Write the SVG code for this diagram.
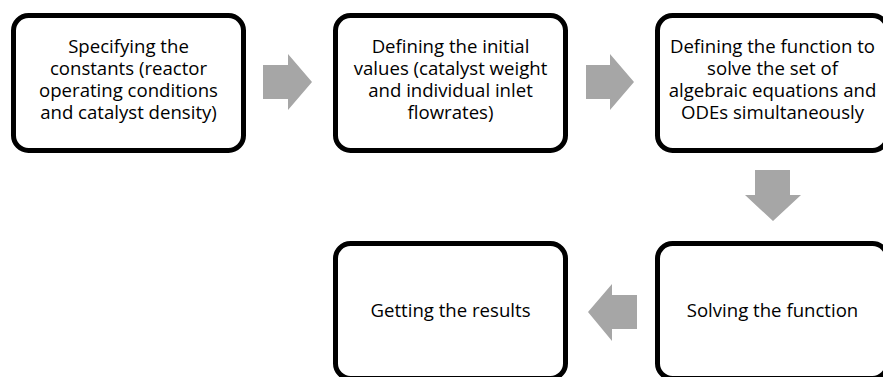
<svg xmlns="http://www.w3.org/2000/svg" width="883" height="377" viewBox="0 0 883 377">
<style>
.box{fill:#fff;stroke:#000;stroke-width:5}
.arrow{fill:#a6a6a6}
text{font-family:"Open Sans","Noto Sans","Liberation Sans",sans-serif;font-size:18.6px;fill:#000;text-anchor:middle}
</style>
<rect width="883" height="377" fill="#fff"/>
<g id="connectors">
<polygon class="arrow" points="263,65 288,65 288,54 312,82 288,110 288,99 263,99"/>
<polygon class="arrow" points="586,65 610,65 610,54 634,82 610,110 610,99 586,99"/>
<polygon class="arrow" points="755,170 790,170 790,195 801,195 773,221 745,195 755,195"/>
<polygon class="arrow" points="637,295 612,295 612,284 588,312 612,341 612,329 637,329"/>
</g>
<g id="node1">
<rect class="box" x="13.5" y="15.5" width="230" height="135" rx="15"/>
<text x="128.5" y="53">Specifying the</text>
<text x="128.5" y="75">constants (reactor</text>
<text x="128.5" y="97">operating conditions</text>
<text x="128.5" y="119">and catalyst density)</text>
</g>
<g id="node2">
<rect class="box" x="335.5" y="15.5" width="230" height="135" rx="15"/>
<text x="450.5" y="53">Defining the initial</text>
<text x="450.5" y="75">values (catalyst weight</text>
<text x="450.5" y="97">and individual inlet</text>
<text x="450.5" y="119">flowrates)</text>
</g>
<g id="node3">
<rect class="box" x="657.5" y="15.5" width="230" height="135" rx="15"/>
<text x="772.5" y="53">Defining the function to</text>
<text x="772.5" y="75">solve the set of</text>
<text x="772.5" y="97">algebraic equations and</text>
<text x="772.5" y="119">ODEs simultaneously</text>
</g>
<g id="node4">
<rect class="box" x="657.5" y="243.5" width="230" height="135" rx="15"/>
<text x="772.5" y="317">Solving the function</text>
</g>
<g id="node5">
<rect class="box" x="335.5" y="243.5" width="230" height="135" rx="15"/>
<text x="450.5" y="317">Getting the results</text>
</g>
</svg>
